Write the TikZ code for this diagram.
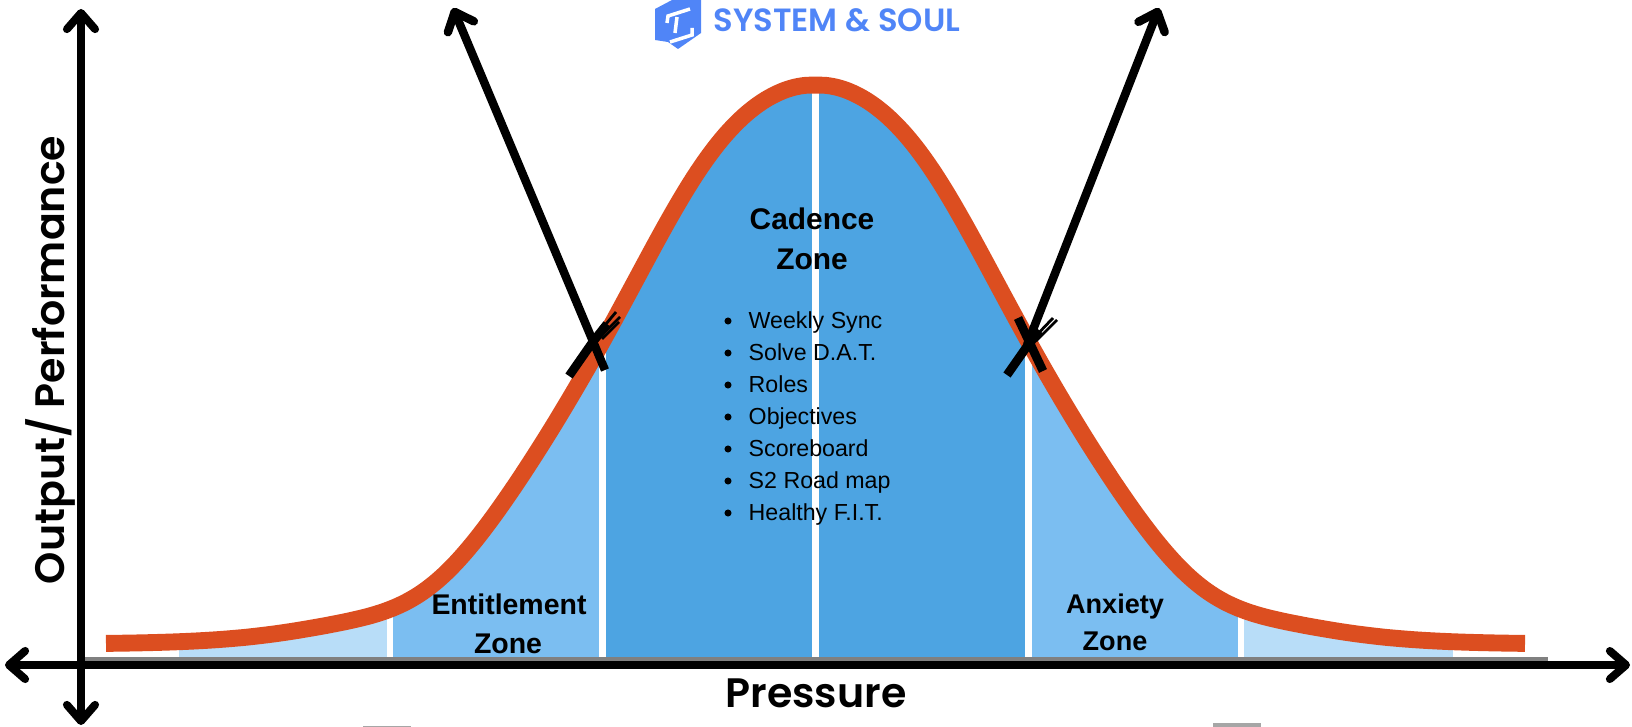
\documentclass[tikz,border=0pt]{standalone}
\usepackage{fontspec}
\usepackage{tikz}
\usetikzlibrary{arrows.meta,positioning,calc}
\setmainfont{Liberation Sans}
\newfontfamily\headfont{Poppins}[BoldFont=Poppins SemiBold]
\definecolor{curvered}{HTML}{DC4E20}
\definecolor{zonedark}{HTML}{4DA4E2}
\definecolor{zonemid}{HTML}{7BBEF1}
\definecolor{zonepale}{HTML}{B8DDF8}
\definecolor{brandblue}{HTML}{5085F7}
\definecolor{stripgray}{HTML}{808080}
\definecolor{cropgray}{HTML}{A6A6A6}
\tikzset{declare function={bellh(\t)=644-558*exp(-((\t-815.5)/192)^2/2)+17*exp(-((abs(\t-815.5)-385)/80)^2)-10*exp(-((abs(\t-815.5)-110)/70)^2);}}
\tikzset{axisline/.style={line width=2.27pt,{Straight Barb[round,length=4.6pt,width=8pt]}-{Straight Barb[round,length=4.6pt,width=8pt]}}, pointer/.style={line width=2.4pt,-{Straight Barb[round,length=4.6pt,width=8pt]}}, bell/.style={draw=curvered,line width=4.8pt,line join=round}, zonehead/.style={font=\fontsize{8.5}{11.3}\selectfont\bfseries,inner sep=0pt,anchor=base}, sidehead/.style={font=\fontsize{7.7}{11}\selectfont\bfseries,inner sep=0pt,anchor=base}, listitem/.style={font=\fontsize{6.6}{9}\selectfont,anchor=base west,inner sep=0pt}, listdot/.style={circle,fill=black,inner sep=0pt,minimum size=2pt}, axislabel/.style={font=\headfont\bfseries\fontsize{11.7}{14}\selectfont,inner sep=0pt,anchor=base}, slash/.style={line width=2.5pt,line cap=butt}, fray/.style={line width=.8pt}}

\begin{document}
\begin{tikzpicture}[x=.1mm,y=-.1mm]
\useasboundingbox (0,0) rectangle (1632,727);
% zones under the curve
\begin{scope}
\clip plot[domain=106:1525,samples=143,smooth] (\x,{bellh(\x)}) -- (1525,657.5) -- (106,657.5) -- cycle;
\fill[zonepale] (179,560) rectangle (387,657.5);
\fill[zonemid] (393,300) rectangle (599,657.5);
\fill[zonedark] (606,60) rectangle (812,657.5);
\fill[zonedark] (819,60) rectangle (1025,657.5);
\fill[zonemid] (1032,300) rectangle (1238,657.5);
\fill[zonepale] (1244,560) rectangle (1453,657.5);
\end{scope}
\draw[bell] plot[domain=106:1525,samples=143,smooth] (\x,{bellh(\x)});
% axes
\fill[stripgray] (85,657) rectangle (1548,662);
\coordinate (xleft) at (5,665);
\coordinate (xright) at (1630,665);
\coordinate (ytop) at (81,9);
\coordinate (ybottom) at (81,725);
\draw[axisline] (xleft)--(xright);
\draw[axisline] (ybottom)--(ytop);
% crossing marks and arrows
\coordinate (tipleft) at (453,8);
\coordinate (tipright) at (1159,8);
\coordinate (leftend) at (605,370);
\coordinate (rightend) at (1027,345);
\draw[pointer] (leftend)--(tipleft);
\draw[pointer] (rightend)--(tipright);
\draw[slash] (569,376)--(592,343)--(607,324);
\draw[fray] (596,336)--(616,312);
\draw[fray] (598,339)--(620,317);
\draw[fray] (602,339)--(619,322);
\draw[slash] (1007,375)--(1028,345)--(1040,331);
\draw[fray] (1032,340)--(1053,318);
\draw[fray] (1036,341)--(1057,320);
\draw[slash] (1018,318)--(1043,371);
% labels
\node[zonehead] (cadence) at (812,230) {Cadence};
\node[zonehead] (cadencezone) at (812,269) {Zone};
\foreach \name/\yy/\txt in {weekly/328/Weekly Sync,solve/360/Solve D.A.T.,roles/392/Roles,objectives/424/Objectives,scoreboard/456/Scoreboard,roadmap/488/S2 Road map,healthy/520/Healthy F.I.T.}{
\node[listitem] (\name) at (748,\yy) {\txt};
\node[listdot] (\name dot) at (728,\yy-7) {};
}
\node[sidehead,font=\fontsize{8.1}{11}\selectfont\bfseries] (entitlement) at (509,614) {Entitlement};
\node[sidehead,font=\fontsize{8.1}{11}\selectfont\bfseries] (entitlementzone) at (508,653) {Zone};
\node[sidehead] (anxiety) at (1115,613) {Anxiety};
\node[sidehead] (anxietyzone) at (1115,650) {Zone};
\node[axislabel] (pressure) at (816,707) {Pressure};
\node[axislabel,rotate=90] (output) at (64,360) {Output/ Performance};
% logo
\fill[brandblue] (655,9)--(672,0)--(701,0)--(701,33)--(678,49)--(668,42)--(655,40)--cycle;
\draw[white,line width=1pt] (667,23)--(668,16)--(690,9);
\draw[white,line width=1pt] (677,17)--(675,33);
\draw[white,line width=1pt] (670,42)--(692,35)--(692,28);
\node[font=\headfont\bfseries\fontsize{9.15}{11}\selectfont,text=brandblue,anchor=base west,inner sep=0pt] (brand) at (713,32) {SYSTEM \& SOUL};
% cropped marks at the bottom edge
\fill[cropgray] (363,726) rectangle (411,727);
\fill[cropgray] (1213,723) rectangle (1261,727);
\end{tikzpicture}
\end{document}
